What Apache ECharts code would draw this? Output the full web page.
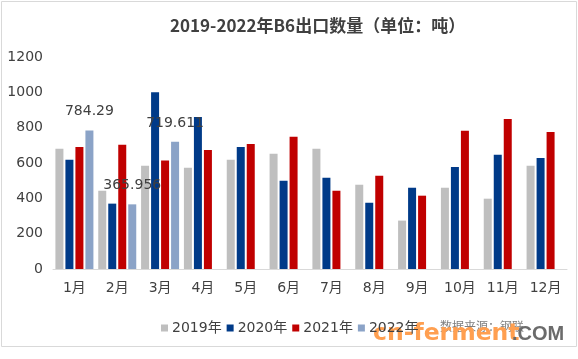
<!DOCTYPE html>
<html><head><meta charset="utf-8">
<script src="https://cdn.jsdelivr.net/npm/echarts@6/dist/echarts.min.js"></script>
<style>html,body{margin:0;padding:0;background:#fff}#c{width:578px;height:359px}</style>
</head><body><div id="c"></div>
<script>
var months = ['1月','2月','3月','4月','5月','6月','7月','8月','9月','10月','11月','12月'];
var y2019 = [680, 443, 584, 573, 618, 652, 680, 477, 274, 460, 398, 584];
var y2020 = [618, 370, 1000, 861, 691, 499, 516, 375, 460, 578, 646, 629];
var y2021 = [691, 703, 614, 674, 708, 748, 443, 528, 415, 782, 849, 776];
var y2022 = [784.29, 365.956, 719.611, null, null, null, null, null, null, null, null, null];
var yTicks = [0, 200, 400, 600, 800, 1000, 1200];
var seriesNames = ['2019年','2020年','2021年','2022年'];
var colors = ['#BFBFBF','#003A88','#C00000','#8BA3C7'];

var FONT = 'DejaVu Sans, Noto Sans CJK SC, sans-serif';
var chart = echarts.init(document.getElementById('c'), null, {renderer:'canvas'});
function mk(i, data, lbl){
  var s = {name: seriesNames[i], type:'bar', data: data, barWidth: 8, barGap: '25%',
    itemStyle:{color: colors[i]}, animation:false};
  if (lbl) s.label = {show:true, position:'top', distance: 12, color:'#404040', fontSize:14, fontFamily: FONT,
    formatter: function(p){ return p.value == null ? '' : String(p.value); }};
  return s;
}
chart.setOption({
  animation:false,
  color: colors,
  title:{text:'2019-2022年B6出口数量（单位：吨）', left:165, top:12,
    textStyle:{fontSize:17, fontWeight:'bold', color:'#404040', fontFamily:'Noto Sans CJK SC, sans-serif'}},
  grid:{left:53, right:11, top:57, bottom:90, containLabel:false},
  legend:{data: seriesNames, left:156, top:316, icon:'rect', itemWidth:7, itemHeight:7, itemGap:5,
    textStyle:{fontSize:14, color:'#404040', fontFamily: FONT, padding:[0,0,0,-1]}},
  xAxis:{type:'category', data: months,
    axisLine:{lineStyle:{color:'#D9D9D9', width:1}}, axisTick:{show:false},
    axisLabel:{fontSize:14, color:'#404040', margin:12, fontFamily: FONT, interval:0}},
  yAxis:{type:'value', min: yTicks[0], max: yTicks[yTicks.length-1], interval:200,
    axisLine:{show:false}, axisTick:{show:false}, splitLine:{show:false},
    axisLabel:{fontSize:14, color:'#404040', margin:10, fontFamily: FONT,
      formatter: function(v){ return String(v); }}},
  graphic:[
    {type:'rect', shape:{x:1.5, y:1.5, width:575, height:345}, style:{fill:null, stroke:'#D9D9D9', lineWidth:1}, z:-1},
    {type:'text', left:440, top:320, style:{text:'数据来源：钢联', fill:'#7F7F7F', font:'12px Noto Sans CJK SC'}},
    {type:'text', left:373, top:322, style:{text:'cn-ferment', fill:'#FF9F50', font:'bold 23.5px DejaVu Sans'}},
    {type:'text', left:512, top:324, style:{text:'.COM', fill:'#6B6B6B', font:'bold 20px Liberation Sans'}}
  ],
  series:[mk(0,y2019), mk(1,y2020), mk(2,y2021), mk(3,y2022,true)]
});
</script></body></html>
